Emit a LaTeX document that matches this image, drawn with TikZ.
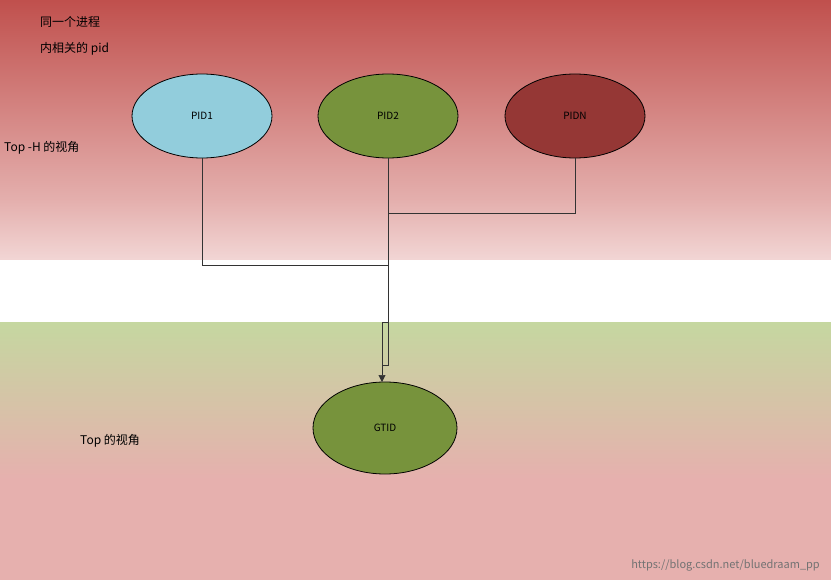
\documentclass[tikz,border=0pt]{standalone}
\usepackage{fontspec}
\setmainfont{Noto Sans CJK SC}
\usetikzlibrary{shapes.geometric,arrows.meta}
\definecolor{topred}{HTML}{C0504D}
\definecolor{toppink}{HTML}{F2D6D5}
\definecolor{midpink}{HTML}{E4AFAD}
\definecolor{botgreen}{HTML}{C5D7A0}
\definecolor{botpink}{HTML}{E6B0AE}
\definecolor{cblue}{HTML}{92CDDC}
\definecolor{cgreen}{HTML}{77933C}
\definecolor{cred}{HTML}{953735}
\begin{document}
\begin{tikzpicture}[x=1pt,y=-1pt,
  el/.style={ellipse,draw=black,line width=0.8pt,minimum width=140pt,minimum height=84pt,inner sep=0pt,font=\fontsize{10}{12}\selectfont},
  lbl/.style={font=\fontsize{12}{14}\selectfont,anchor=west,inner sep=0pt},
  wire/.style={draw=black!80,line width=0.6pt}]
\useasboundingbox (0,0) rectangle (831,583);
\fill[white] (0,0) rectangle (831,583);
\shade[top color=topred,bottom color=midpink] (0,0) rectangle (831,200);
\shade[top color=midpink,bottom color=toppink] (0,200) rectangle (831,260);
\shade[top color=botgreen,bottom color=botpink] (0,322) rectangle (831,480);
\fill[botpink] (0,480) rectangle (831,580);
\node[el,fill=cblue] (p1) at (202,116) {PID1};
\node[el,fill=cgreen] (p2) at (388,116) {PID2};
\node[el,fill=cred] (pn) at (575,116) {PIDN};
\node[el,fill=cgreen,minimum width=144pt,minimum height=92pt] (g) at (385,428) {GTID};
\node[lbl] (t1) at (40,22) {同一个进程};
\node[lbl] (t2) at (40,49) {内相关的 pid};
\node[lbl] (t3) at (4,148) {Top -H 的视角};
\node[lbl] (t4) at (80,441) {Top 的视角};
\node[font=\fontsize{11}{13}\selectfont,text=black!55,anchor=east,inner sep=0pt] (w) at (820,565) {https://blog.csdn.net/bluedraam\_pp};
\coordinate (j1) at (388,265);
\coordinate (j2) at (388,213);
\coordinate (r) at (388,322);
\coordinate (a) at (382,382);
\draw[wire] (p1.south) -- (p1.south |- j1) -- (j1);
\draw[wire] (pn.south) -- (pn.south |- j2) -- (j2);
\draw[wire] (p2.south) -- (r);
\draw[wire] (r) -- (382,322) -- (382,365) -- (388,365) -- (r);
\draw[wire,-{Triangle[length=7pt,width=7pt]}] (382,365) -- (a);
\end{tikzpicture}
\end{document}
